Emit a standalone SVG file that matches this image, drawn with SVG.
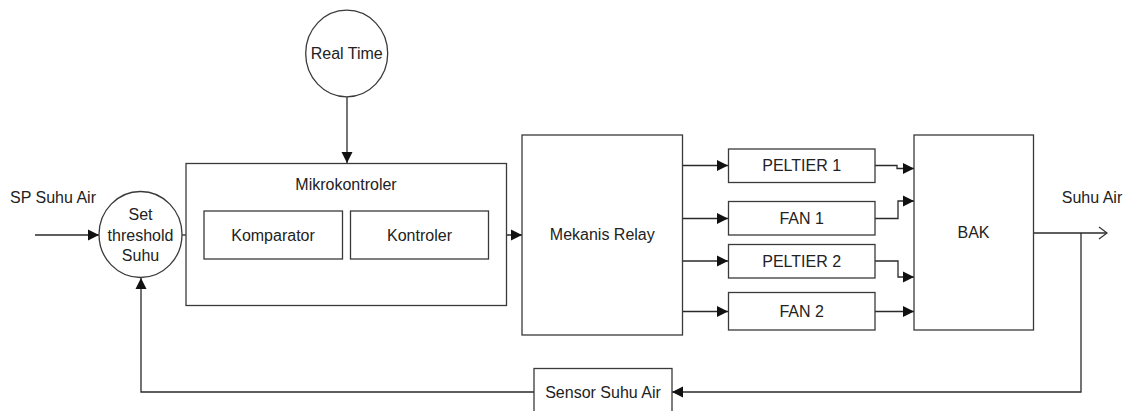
<svg xmlns="http://www.w3.org/2000/svg" width="1128" height="411" viewBox="0 0 1128 411">
<defs>
<style>
.box{fill:#fff;stroke:#3a3a3a;stroke-width:1.3}
.ln{fill:none;stroke:#2a2a2a;stroke-width:1.3}
text{font-family:"Liberation Sans",Arial,sans-serif;font-size:16px;fill:#222;text-anchor:middle}
</style>
<marker id="ah" markerUnits="userSpaceOnUse" markerWidth="13" markerHeight="13" refX="12" refY="6.5" orient="auto">
<path d="M1,1 L12,6.5 L1,12 Z" fill="#111"/>
</marker>
<marker id="oh" markerUnits="userSpaceOnUse" markerWidth="12" markerHeight="14" refX="11" refY="7" orient="auto">
<path d="M3,1 L11,7 L3,13" fill="none" stroke="#333" stroke-width="1.2"/>
</marker>
</defs>
<rect width="1128" height="411" fill="#fff"/>
<g id="connectors">
<line class="ln" x1="35" y1="235" x2="99" y2="235" marker-end="url(#ah)"/>
<line class="ln" x1="182" y1="235" x2="204" y2="235" marker-end="url(#ah)"/>
<line class="ln" x1="347" y1="97" x2="347" y2="163" marker-end="url(#ah)"/>
<line class="ln" x1="488" y1="235" x2="522" y2="235" marker-end="url(#ah)"/>
<line class="ln" x1="683" y1="165.5" x2="728" y2="165.5" marker-end="url(#ah)"/>
<line class="ln" x1="683" y1="218.5" x2="728" y2="218.5" marker-end="url(#ah)"/>
<line class="ln" x1="683" y1="261" x2="728" y2="261" marker-end="url(#ah)"/>
<line class="ln" x1="683" y1="311.5" x2="728" y2="311.5" marker-end="url(#ah)"/>
<polyline class="ln" points="875,165.5 897,165.5 897,168.5 914,168.5" marker-end="url(#ah)"/>
<polyline class="ln" points="875,218.5 898,218.5 898,201 914,201" marker-end="url(#ah)"/>
<polyline class="ln" points="875,261 898,261 898,277 914,277" marker-end="url(#ah)"/>
<line class="ln" x1="875" y1="311.5" x2="914" y2="311.5" marker-end="url(#ah)"/>
<line class="ln" x1="1033" y1="233" x2="1107" y2="233" marker-end="url(#oh)"/>
<polyline class="ln" points="1081,233 1081,392 672,392" marker-end="url(#ah)"/>
<polyline class="ln" points="534,392 141,392 141,278" marker-end="url(#ah)"/>
</g>
<g id="sp-label"><text x="53" y="203">SP Suhu Air</text></g>
<g id="suhu-air-label"><text x="1092" y="203">Suhu Air</text></g>
<g id="set-threshold">
<ellipse class="box" cx="140.5" cy="234.5" rx="41.5" ry="43"/>
<text x="140.5" y="220">Set</text>
<text x="140.5" y="240.5">threshold</text>
<text x="140.5" y="261">Suhu</text>
</g>
<g id="real-time">
<ellipse class="box" cx="346.7" cy="53.5" rx="41" ry="43.3"/>
<text x="346.7" y="59">Real Time</text>
</g>
<g id="mikrokontroler">
<rect class="box" x="186" y="163.5" width="320.5" height="142"/>
<text x="346" y="190">Mikrokontroler</text>
</g>
<g id="komparator">
<rect class="box" x="204" y="211" width="138.5" height="48"/>
<text x="273" y="240.5">Komparator</text>
</g>
<g id="kontroler">
<rect class="box" x="350.5" y="211" width="138" height="48"/>
<text x="419.5" y="240.5">Kontroler</text>
</g>
<g id="mekanis-relay">
<rect class="box" x="522" y="135" width="160.5" height="200"/>
<text x="602.3" y="240">Mekanis Relay</text>
</g>
<g id="peltier1">
<rect class="box" x="728.5" y="149" width="146.5" height="33.5"/>
<text x="801.7" y="171">PELTIER 1</text>
</g>
<g id="fan1">
<rect class="box" x="728.5" y="201.5" width="146.5" height="33.5"/>
<text x="801.7" y="224">FAN 1</text>
</g>
<g id="peltier2">
<rect class="box" x="728.5" y="244.5" width="146.5" height="33.5"/>
<text x="801.7" y="267">PELTIER 2</text>
</g>
<g id="fan2">
<rect class="box" x="728.5" y="292.5" width="146.5" height="37.5"/>
<text x="801.7" y="317">FAN 2</text>
</g>
<g id="bak">
<rect class="box" x="914" y="135" width="119.5" height="195"/>
<text x="973.5" y="238">BAK</text>
</g>
<g id="sensor">
<rect class="box" x="534" y="368.5" width="138" height="50"/>
<text x="603" y="397.5">Sensor Suhu Air</text>
</g>
</svg>
